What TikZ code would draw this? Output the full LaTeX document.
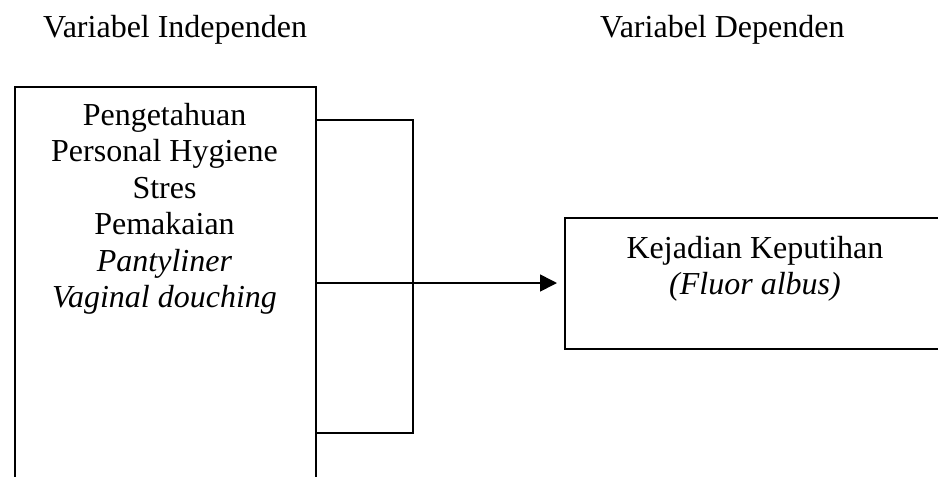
\documentclass[tikz,border=0pt]{standalone}
\usepackage{fontspec}
\setmainfont{Liberation Serif}
\usetikzlibrary{arrows.meta}
\begin{document}
\begin{tikzpicture}[x=1pt,y=-1pt,
  lbl/.style={inner sep=0pt,font=\fontsize{32}{36.5}\selectfont},
  boxline/.style={draw=black,line width=1.6pt},
  conn/.style={draw=black,line width=1.6pt},
  arr/.style={conn,-{Triangle[length=17pt,width=17pt]}}]
\useasboundingbox (0,0) rectangle (938,477);
\clip (0,0) rectangle (938,477);
\node[lbl,anchor=base west] (h1) at (43,37) {Variabel Independen};
\node[lbl,anchor=base west] (h2) at (600,37) {Variabel Dependen};
\node[boxline,rectangle,minimum width=301pt,minimum height=430pt,anchor=north west,inner sep=0pt] (L) at (14,86) {};
\node[boxline,rectangle,minimum width=420pt,minimum height=131pt,anchor=north west,inner sep=0pt] (R) at (564,217) {};
\node[lbl,align=center,anchor=north] (Lt) at (164.5,103) {Pengetahuan\\Personal Hygiene\\Stres\\Pemakaian\\\textit{Pantyliner}\\\textit{Vaginal douching}};
\node[lbl,align=center,anchor=north] (Rt) at (755,236) {Kejadian Keputihan\\\textit{(Fluor albus)}};
\coordinate (j1) at (413,120);
\coordinate (j2) at (413,283);
\coordinate (j3) at (413,433);
\coordinate (tip) at (557,283);
\draw[conn] (L.east |- j1) -- (j1) -- (j3) -- (L.east |- j3);
\draw[conn] (L.east |- j2) -- (j2);
\draw[arr] (j2) -- (tip);
\end{tikzpicture}
\end{document}
